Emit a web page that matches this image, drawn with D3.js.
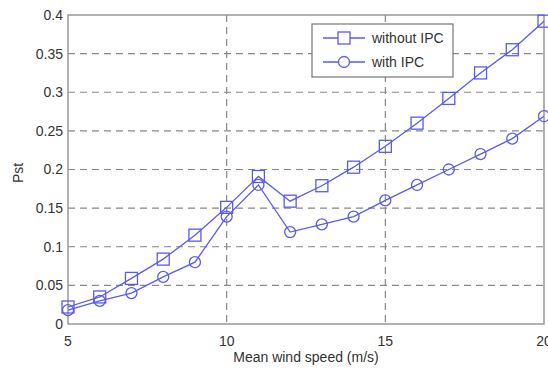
<!DOCTYPE html>
<html>
<head>
<meta charset="utf-8">
<script src="https://cdn.jsdelivr.net/npm/d3@7"></script>
<style>
  body { margin: 0; background: #fff; overflow: hidden; }
  text { font-family: "Liberation Sans", Arial, sans-serif; fill: #333; }
</style>
</head>
<body>
<script>
'use strict';

var speeds = [5, 6, 7, 8, 9, 10, 11, 12, 13, 14, 15, 16, 17, 18, 19, 20];
var withoutIPC = [0.022, 0.035, 0.059, 0.084, 0.115, 0.151, 0.191, 0.159, 0.179, 0.203, 0.23, 0.26, 0.292, 0.325, 0.355, 0.392];
var withIPC = [0.018, 0.03, 0.04, 0.061, 0.08, 0.139, 0.18, 0.119, 0.129, 0.139, 0.16, 0.18, 0.2, 0.22, 0.24, 0.269];
var xTicks = [5, 10, 15, 20];
var yTicks = [0, 0.05, 0.1, 0.15, 0.2, 0.25, 0.3, 0.35, 0.4];

var W = 548, H = 371;
var plotL = 68, plotR = 544, plotT = 15, plotB = 324;
var blue = '#5a5af0';

var svg = d3.select('body').append('svg').attr('width', W).attr('height', H);

var x = d3.scaleLinear().domain([5, 20]).range([plotL, plotR]);
var y = d3.scaleLinear().domain([0, 0.4]).range([plotB, plotT]);

// grid
svg.append('g').selectAll('line').data(yTicks.slice(1, -1)).enter().append('line')
  .attr('x1', plotL).attr('x2', plotR)
  .attr('y1', function (d) { return y(d); }).attr('y2', function (d) { return y(d); })
  .attr('stroke', '#888').attr('stroke-width', 1.2).attr('stroke-dasharray', '7,5');
svg.append('g').selectAll('line').data(xTicks.slice(1, -1)).enter().append('line')
  .attr('y1', plotT).attr('y2', plotB)
  .attr('x1', function (d) { return x(d); }).attr('x2', function (d) { return x(d); })
  .attr('stroke', '#888').attr('stroke-width', 1.2).attr('stroke-dasharray', '7,5');

// frame
svg.append('rect').attr('x', plotL).attr('y', plotT).attr('width', plotR - plotL).attr('height', plotB - plotT)
  .attr('fill', 'none').attr('stroke', '#999').attr('stroke-width', 1.5);

// tick labels
svg.append('g').selectAll('text').data(yTicks).enter().append('text')
  .attr('x', plotL - 5).attr('y', function (d) { return y(d); }).attr('dy', '0.35em')
  .attr('text-anchor', 'end').style('font-size', '14px')
  .text(function (d) { return d3.format('')(d); });
svg.append('g').selectAll('text').data(xTicks).enter().append('text')
  .attr('x', function (d) { return x(d); }).attr('y', plotB + 22)
  .attr('text-anchor', 'middle').style('font-size', '14px')
  .text(function (d) { return d; });

svg.append('text').attr('x', (plotL + plotR) / 2).attr('y', 362)
  .attr('text-anchor', 'middle').style('font-size', '14px').text('Mean wind speed (m/s)');
svg.append('text').attr('transform', 'translate(23,' + 173 + ') rotate(-90)')
  .attr('text-anchor', 'middle').style('font-size', '14px').text('Pst');

// series
var line = d3.line().x(function (d) { return x(d[0]); }).y(function (d) { return y(d[1]); });
var s1 = d3.zip(speeds, withoutIPC);
var s2 = d3.zip(speeds, withIPC);

svg.append('path').datum(s1).attr('d', line).attr('fill', 'none').attr('stroke', blue).attr('stroke-width', 1.3);
svg.append('path').datum(s2).attr('d', line).attr('fill', 'none').attr('stroke', blue).attr('stroke-width', 1.3);

svg.append('g').selectAll('rect').data(s1).enter().append('rect')
  .attr('x', function (d) { return x(d[0]) - 6; }).attr('y', function (d) { return y(d[1]) - 6; })
  .attr('width', 12).attr('height', 12)
  .attr('fill', 'none').attr('stroke', blue).attr('stroke-width', 1.3);
svg.append('g').selectAll('circle').data(s2).enter().append('circle')
  .attr('cx', function (d) { return x(d[0]); }).attr('cy', function (d) { return y(d[1]); })
  .attr('r', 5.5)
  .attr('fill', 'none').attr('stroke', blue).attr('stroke-width', 1.3);

// legend
var lg = svg.append('g');
lg.append('rect').attr('x', 312).attr('y', 24).attr('width', 141).attr('height', 53)
  .attr('fill', '#fff').attr('stroke', '#777').attr('stroke-width', 1.2);
var items = [{ name: 'without IPC', shape: 'square', yy: 38 }, { name: 'with IPC', shape: 'circle', yy: 62 }];
items.forEach(function (it) {
  lg.append('line').attr('x1', 323).attr('x2', 365).attr('y1', it.yy).attr('y2', it.yy)
    .attr('stroke', blue).attr('stroke-width', 1.3);
  if (it.shape === 'square') {
    lg.append('rect').attr('x', 338).attr('y', it.yy - 6).attr('width', 12).attr('height', 12)
      .attr('fill', '#fff').attr('stroke', blue).attr('stroke-width', 1.3);
  } else {
    lg.append('circle').attr('cx', 344).attr('cy', it.yy).attr('r', 5.5)
      .attr('fill', '#fff').attr('stroke', blue).attr('stroke-width', 1.3);
  }
  lg.append('text').attr('x', 372).attr('y', it.yy).attr('dy', '0.35em')
    .style('font-size', '14px').text(it.name);
});
</script>
</body>
</html>
